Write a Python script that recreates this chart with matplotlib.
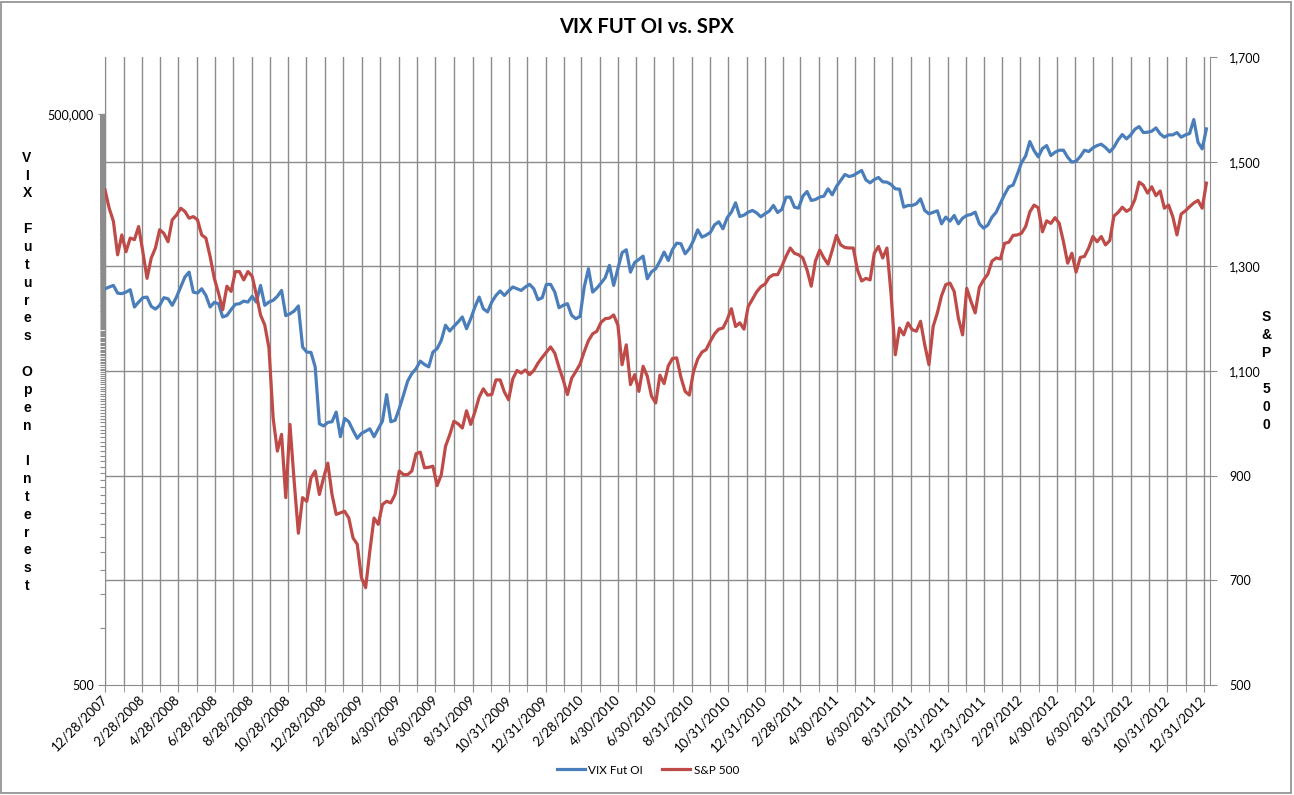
import numpy as np
import pandas as pd
import matplotlib
matplotlib.use("Agg")
import matplotlib.pyplot as plt
import matplotlib.dates as mdates
from matplotlib.patches import Rectangle
from matplotlib.ticker import FixedLocator, NullFormatter, FuncFormatter

# ── Data (weekly) ─────────────────────────────────────────────────
START = "2007-12-28"

spx = [
    1446, 1411, 1386, 1322, 1360, 1328, 1354, 1351, 1376, 1328,
    1277, 1316, 1335, 1370, 1363, 1347, 1389, 1398, 1411, 1405,
    1392, 1395, 1389, 1360, 1354, 1319, 1277, 1249, 1217, 1262,
    1252, 1290, 1290, 1274, 1290, 1281, 1246, 1207, 1188, 1144,
    1010, 947, 979, 858, 998, 889, 790, 858, 851, 896,
    909, 864, 896, 924, 864, 826, 829, 832, 819, 781,
    769, 705, 686, 756, 819, 807, 845, 851, 848, 864,
    909, 902, 902, 909, 942, 945, 915, 916, 918, 881,
    902, 956, 978, 1004, 999, 991, 1024, 998, 1022, 1050,
    1066, 1054, 1055, 1083, 1083, 1060, 1045, 1085, 1101, 1096,
    1102, 1093, 1101, 1115, 1126, 1136, 1146, 1134, 1107, 1083,
    1055, 1086, 1099, 1113, 1137, 1158, 1171, 1176, 1193, 1200,
    1201, 1207, 1188, 1112, 1150, 1074, 1093, 1061, 1109, 1090,
    1052, 1039, 1092, 1076, 1110, 1124, 1125, 1088, 1061, 1054,
    1099, 1123, 1136, 1141, 1157, 1171, 1180, 1182, 1198, 1219,
    1185, 1192, 1180, 1223, 1237, 1251, 1261, 1266, 1279, 1284,
    1284, 1300, 1319, 1335, 1325, 1322, 1316, 1293, 1262, 1310,
    1331, 1316, 1304, 1331, 1359, 1341, 1336, 1335, 1335, 1293,
    1272, 1277, 1274, 1325, 1338, 1316, 1335, 1246, 1131, 1182,
    1169, 1192, 1179, 1176, 1195, 1150, 1112, 1185, 1211, 1244,
    1265, 1268, 1252, 1201, 1169, 1258, 1233, 1211, 1260, 1274,
    1285, 1310, 1316, 1314, 1344, 1346, 1359, 1360, 1363, 1376,
    1404, 1417, 1412, 1366, 1387, 1382, 1393, 1382, 1347, 1306,
    1325, 1289, 1317, 1319, 1335, 1357, 1347, 1357, 1341, 1349,
    1396, 1403, 1413, 1405, 1410, 1428, 1461, 1455, 1440, 1452,
    1435, 1444, 1411, 1417, 1395, 1360, 1400, 1406, 1414, 1421,
    1426, 1411, 1459,
]

# VIX futures open interest, thousands of contracts
vix_oi_k = [
    60.5, 61.8, 63.0, 57.4, 57.0, 58.1, 59.8, 48.5, 51.5, 54.3,
    54.7, 48.9, 47.3, 49.5, 54.3, 53.6, 49.5, 54.7, 61.8, 69.7,
    74.0, 58.1, 57.4, 60.5, 55.8, 48.5, 51.3, 50.5, 43.0, 43.8,
    47.0, 50.1, 50.5, 52.1, 51.5, 55.2, 51.5, 63.0, 49.5, 51.5,
    52.6, 55.2, 59.3, 43.7, 44.7, 46.2, 49.1, 29.9, 28.1, 28.0,
    23.5, 11.8, 11.5, 12.0, 12.1, 13.6, 10.1, 12.6, 12.1, 10.9,
    9.9, 10.5, 10.8, 11.1, 10.1, 11.1, 12.2, 16.8, 12.1, 12.3,
    14.2, 16.7, 19.8, 21.7, 23.0, 25.2, 24.2, 23.5, 28.1, 29.3,
    32.4, 38.9, 36.3, 38.4, 40.5, 43.0, 37.3, 42.1, 48.5, 54.7,
    47.5, 45.7, 51.5, 55.8, 58.9, 55.8, 58.9, 61.8, 60.5, 59.3,
    61.8, 63.8, 60.5, 53.0, 54.3, 63.8, 63.8, 58.1, 48.1, 49.5,
    50.5, 43.9, 42.1, 43.3, 61.8, 77.1, 58.1, 61.0, 64.8, 69.2,
    80.3, 63.0, 77.1, 93.6, 97.0, 74.0, 83.2, 86.3, 89.8, 68.3,
    74.3, 77.1, 84.6, 94.3, 85.2, 97.4, 105.1, 104.3, 92.4, 98.2,
    108.6, 123.5, 113.0, 115.8, 119.6, 131.2, 136.1, 125.0, 142.8, 152.9,
    171.2, 145.1, 147.5, 152.9, 156.1, 151.7, 144.5, 149.9, 154.8, 165.8,
    152.3, 157.9, 183.4, 183.4, 162.5, 160.5, 185.6, 196.3, 176.1, 178.2,
    183.4, 185.6, 202.8, 188.6, 208.6, 224.3, 241.2, 235.4, 238.3, 246.1,
    253.1, 226.1, 218.1, 227.0, 232.6, 220.7, 219.9, 213.7, 202.8, 202.0,
    162.5, 165.8, 165.8, 169.2, 179.7, 156.1, 149.9, 152.6, 155.4, 132.8,
    144.0, 137.2, 146.9, 132.8, 142.2, 146.9, 148.7, 152.9, 132.8, 126.0,
    130.7, 144.0, 152.9, 170.5, 189.4, 207.7, 212.0, 241.2, 277.7, 302.2,
    359.4, 322.3, 298.6, 330.2, 342.4, 303.4, 315.9, 323.6, 323.6, 297.4,
    280.0, 283.4, 299.8, 323.6, 318.5, 332.9, 342.4, 348.0, 334.3, 317.2,
    335.6, 366.8, 391.2, 371.2, 389.6, 417.3, 430.9, 400.8, 402.4, 407.3,
    424.0, 394.4, 378.8, 389.6, 389.6, 400.8, 378.8, 389.6, 396.0, 469.0,
    356.5, 328.9, 418.9,
]

x_labels = [
    "12/28/2007", "2/28/2008", "4/28/2008", "6/28/2008", "8/28/2008",
    "10/28/2008", "12/28/2008", "2/28/2009", "4/30/2009", "6/30/2009",
    "8/31/2009", "10/31/2009", "12/31/2009", "2/28/2010", "4/30/2010",
    "6/30/2010", "8/31/2010", "10/31/2010", "12/31/2010", "2/28/2011",
    "4/30/2011", "6/30/2011", "8/31/2011", "10/31/2011", "12/31/2011",
    "2/29/2012", "4/30/2012", "6/30/2012", "8/31/2012", "10/31/2012",
    "12/31/2012",
]

spx_ticks = [500, 700, 900, 1100, 1300, 1500, 1700]
oi_ticks = [500, 500000]

BLUE = "#4A7EBB"
RED = "#BE4B48"
GRID = "#8C8C8C"
FONT = "Lato"

dates = pd.date_range(START, periods=len(spx), freq="7D")
vix_oi = np.array(vix_oi_k) * 1000

# ── Figure ────────────────────────────────────────────────────────
fig = plt.figure(figsize=(12.94, 7.95), dpi=100)
W, H = 1294, 795
ax = fig.add_axes([105 / W, 1 - 685 / H, 1105 / W, 628 / H])
ax2 = ax.twinx()

l1, = ax.plot(dates, vix_oi, color=BLUE, lw=2.3, solid_joinstyle="round",
              label="VIX Fut OI", zorder=3)
l2, = ax2.plot(dates, spx, color=RED, lw=2.3, solid_joinstyle="round",
               label="S&P 500", zorder=3)

# x axis: dates, labels every 2 months, gridline every month
label_dates = pd.to_datetime(x_labels, format="%m/%d/%Y")
mid_dates = label_dates[:-1] + (label_dates[1:] - label_dates[:-1]) / 2
ax.set_xlim(pd.Timestamp("2007-12-28"), pd.Timestamp("2013-01-10"))
ax.set_xticks(mdates.date2num(label_dates))
ax.set_xticklabels(x_labels, rotation=45, ha="right", va="center",
                   rotation_mode="anchor", fontsize=9.5, family=FONT)
ax.set_xticks(mdates.date2num(mid_dates), minor=True)
ax.grid(True, axis="x", which="both", color=GRID, lw=1.0, zorder=1)
ax.tick_params(axis="x", which="both", length=5, color=GRID, pad=4)

# left axis: log scale, Excel-style base-1000 with minor ticks
ax.set_yscale("log")
ax.set_ylim(500, 1_000_000)
ax.yaxis.set_major_locator(FixedLocator(oi_ticks))
ax.yaxis.set_major_formatter(FuncFormatter(lambda v, p: f"{v:,.0f}"))
ax.yaxis.set_minor_locator(FixedLocator(np.arange(1000, 500000, 500)))
ax.yaxis.set_minor_formatter(NullFormatter())
ax.tick_params(axis="y", which="major", length=5, color=GRID,
               labelsize=9, pad=3)
ax.tick_params(axis="y", which="minor", length=3.5, color=GRID, width=0.8)
for lab in ax.get_yticklabels():
    lab.set_family(FONT)

# right axis: S&P 500
ax2.set_ylim(500, 1700)
ax2.set_yticks(spx_ticks)
ax2.yaxis.set_major_formatter(FuncFormatter(lambda v, p: f"{v:,.0f}"))
ax2.tick_params(axis="y", length=5, color=GRID, labelsize=9, pad=9)
for lab in ax2.get_yticklabels():
    lab.set_family(FONT)

# horizontal gridlines follow the right axis, drawn behind both series
ax.hlines(spx_ticks[1:-1], 0, 1, transform=ax2.get_yaxis_transform(),
          color=GRID, lw=1.0, zorder=1)

for a in (ax, ax2):
    a.spines["top"].set_visible(False)
    for s in ("left", "right", "bottom"):
        a.spines[s].set_color(GRID)
ax.spines["right"].set_visible(False)
ax2.spines["left"].set_visible(False)
ax2.spines["bottom"].set_visible(False)

# ── Titles ────────────────────────────────────────────────────────
fig.text(0.5, 1 - 27 / H, "VIX FUT OI vs. SPX", ha="center", va="center",
         fontsize=14.5, fontweight="bold", family=FONT)
fig.text(27 / W, 1 - 372 / H, "\n".join("VIX Futures Open Interest"),
         ha="center", va="center", fontsize=10, fontweight="bold",
         family="Liberation Sans", linespacing=1.35)
fig.text(1266 / W, 1 - 371 / H, "\n".join("S&P 500"),
         ha="center", va="center", fontsize=10, fontweight="bold",
         family="Liberation Sans", linespacing=1.35)

fig.legend([l1, l2], ["VIX Fut OI", "S&P 500"], loc="center",
           bbox_to_anchor=(648 / W, 1 - 770 / H), ncol=2, frameon=False,
           prop={"family": FONT, "size": 8.5}, handlelength=2.4,
           handletextpad=0.3, columnspacing=1.6)

# chart border
fig.patches.append(Rectangle((0.001, 0.002), 0.997, 0.995,
                             transform=fig.transFigure, fill=False,
                             edgecolor=GRID, lw=1.2))

fig.savefig("out.png", dpi=100)
